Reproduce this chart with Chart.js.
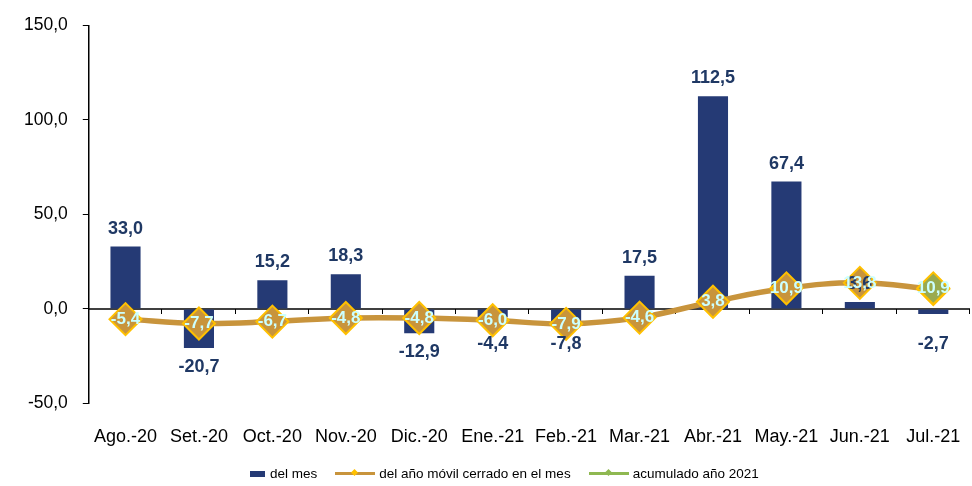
<!DOCTYPE html>
<html>
<head>
<meta charset="utf-8">
<script src="https://cdn.jsdelivr.net/npm/chart.js@4"></script>
<style>
  html, body { margin: 0; padding: 0; background: #fff; }
  #wrap { position: relative; width: 972px; height: 486px; }
  #leyenda {
    position: absolute; left: 250px; top: 466px;
    font: 13.5px "Liberation Sans", Arial, sans-serif; color: #000;
    display: flex; align-items: center; white-space: nowrap;
  }
  .item { display: flex; align-items: center; margin-right: 18px; }
  .caja { width: 15px; height: 6px; background: #253a75; margin-right: 5px; }
  .linea { position: relative; width: 40px; height: 3px; margin-right: 4px; }
  .rombo { position: absolute; left: 17px; top: -2px; width: 5px; height: 5px; transform: rotate(45deg); }
</style>
</head>
<body>
<div id="wrap">
  <canvas id="grafico" width="972" height="486"></canvas>
  <div id="leyenda">
    <div class="item"><span class="caja"></span>del mes</div>
    <div class="item"><span class="linea" style="background:#c8943c"><span class="rombo" style="background:#ffc000"></span></span>del año móvil cerrado en el mes</div>
    <div class="item"><span class="linea" style="background:#8fb851"><span class="rombo" style="background:#8fb851"></span></span>acumulado año 2021</div>
  </div>
</div>
<script>
// Datos del gráfico
const meses = ['Ago.-20', 'Set.-20', 'Oct.-20', 'Nov.-20', 'Dic.-20', 'Ene.-21',
               'Feb.-21', 'Mar.-21', 'Abr.-21', 'May.-21', 'Jun.-21', 'Jul.-21'];
const delMes = [33.0, -20.7, 15.2, 18.3, -12.9, -4.4, -7.8, 17.5, 112.5, 67.4, 3.6, -2.7];
const anioMovil = [-5.4, -7.7, -6.7, -4.8, -4.8, -6.0, -7.9, -4.6, 3.8, 10.9, 13.8, 10.5];
const acumulado2021 = [null, null, null, null, null, null, null, null, null, null, null, 10.9];
const ticksY = [-50, 0, 50, 100, 150];

const fmt = v => v.toFixed(1).replace('.', ',');
const fuente = '"Liberation Sans", Arial, sans-serif';

// Eje horizontal en el cero, con sus marcas entre meses
const ejeCero = {
    id: 'ejeCero',
    beforeDatasetsDraw(chart) {
        const ctx = chart.ctx;
        const x = chart.scales.x;
        const y0 = Math.round(chart.scales.y.getPixelForValue(0));
        const paso = (x.right - x.left) / meses.length;
        ctx.save();
        ctx.strokeStyle = '#000';
        ctx.lineWidth = 1.5;
        ctx.beginPath();
        ctx.moveTo(x.left, y0);
        ctx.lineTo(x.right, y0);
        ctx.stroke();
        ctx.lineWidth = 1;
        ctx.beginPath();
        for (let i = 1; i <= meses.length; i++) {
            const px = Math.round(x.left + paso * i) - 0.5;
            ctx.moveTo(px, y0);
            ctx.lineTo(px, y0 + 5);
        }
        ctx.stroke();
        ctx.restore();
    }
};

// Etiquetas de datos dibujadas a mano (sin plugin externo)
const etiquetas = {
    id: 'etiquetas',
    afterDatasetsDraw(chart) {
        const ctx = chart.ctx;
        const ceroY = chart.scales.y.getPixelForValue(0);
        ctx.save();
        ctx.textAlign = 'center';
        ctx.textBaseline = 'middle';

        // del mes
        ctx.font = 'bold 18px ' + fuente;
        ctx.fillStyle = '#1f3864';
        chart.getDatasetMeta(0).data.forEach((bar, i) => {
            const v = delMes[i];
            let y;
            if (v >= 0) {
                y = bar.y - 18;
            } else {
                y = Math.max(bar.y + 19, ceroY + 35);
            }
            ctx.fillText(fmt(v), bar.x, y);
        });

        // puntos de las líneas
        ctx.font = 'bold 17px ' + fuente;
        ctx.fillStyle = '#ccffff';
        chart.getDatasetMeta(1).data.forEach((pt, i) => {
            if (acumulado2021[i] !== null) return;
            ctx.fillText(fmt(anioMovil[i]), pt.x, pt.y);
        });
        chart.getDatasetMeta(2).data.forEach((pt, i) => {
            if (acumulado2021[i] === null) return;
            ctx.fillText(fmt(acumulado2021[i]), pt.x, pt.y);
        });
        ctx.restore();
    }
};

const grafico = new Chart(document.getElementById('grafico'), {
    type: 'bar',
    data: {
        labels: meses,
        datasets: [
            {
                label: 'del mes',
                data: delMes,
                backgroundColor: '#253a75',
                barPercentage: 0.41,
                categoryPercentage: 1,
                order: 3
            },
            {
                type: 'line',
                label: 'del año móvil cerrado en el mes',
                data: anioMovil,
                borderColor: '#c8943c',
                borderWidth: 5.5,
                tension: 0.4,
                pointStyle: 'rectRot',
                pointRadius: 16,
                pointBackgroundColor: '#c8943c',
                pointBorderColor: '#ffc000',
                pointBorderWidth: 2,
                order: 2
            },
            {
                type: 'line',
                label: 'acumulado año 2021',
                data: acumulado2021,
                borderColor: '#8fb851',
                borderWidth: 5,
                pointStyle: 'rectRot',
                pointRadius: 16,
                pointBackgroundColor: '#9aaa4e',
                pointBorderColor: '#ffc000',
                pointBorderWidth: 2,
                order: 1
            }
        ]
    },
    options: {
        animation: false,
        responsive: false,
        layout: { autoPadding: false, padding: { top: 8, right: 2, bottom: 38, left: 9 } },
        plugins: {
            legend: { display: false },
            tooltip: { enabled: false }
        },
        scales: {
            x: {
                grid: { display: false, drawTicks: true, tickLength: 23 },
                border: { display: false },
                ticks: {
                    padding: 0,
                    color: '#000',
                    font: { family: fuente, size: 18 },
                    maxRotation: 0,
                    autoSkip: false
                }
            },
            y: {
                min: -50,
                max: 150,
                afterBuildTicks: axis => { axis.ticks = ticksY.map(v => ({ value: v })); },
                grid: { drawOnChartArea: false, tickLength: 6, color: '#000' },
                border: { display: true, color: '#000', width: 1.5 },
                ticks: {
                    padding: 15,
                    color: '#000',
                    font: { family: fuente, size: 17.5 },
                    callback: v => fmt(v)
                }
            }
        }
    },
    plugins: [ejeCero, etiquetas]
});
</script>
</body>
</html>
